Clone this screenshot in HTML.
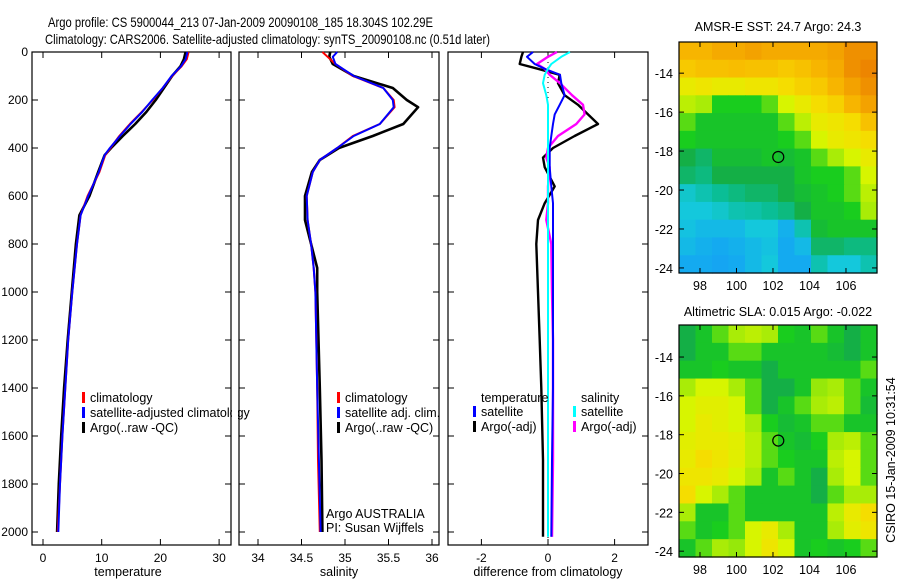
<!DOCTYPE html>
<html><head><meta charset="utf-8"><style>
html,body{margin:0;padding:0;background:#fff;}
svg{display:block;font-family:"Liberation Sans",sans-serif;}
</style></head><body>
<svg id="chart" width="900" height="580" viewBox="0 0 900 580" xmlns="http://www.w3.org/2000/svg">
<text x="48" y="27" font-size="14" textLength="385" lengthAdjust="spacingAndGlyphs">Argo profile: CS 5900044_213 07-Jan-2009 20090108_185 18.304S 102.29E</text>
<text x="45" y="44" font-size="14" textLength="445" lengthAdjust="spacingAndGlyphs">Climatology: CARS2006. Satellite-adjusted climatology: synTS_20090108.nc (0.51d later)</text>
<g id="g"></g>
</svg>
<script>
// ---------- data ----------
var depthT = [0,30,60,100,150,200,250,300,350,400,430,500,600,680,800,1000,1200,1400,1600,1800,2000];
var tempClim = [24.8,24.5,23.6,22.0,20.4,18.7,16.8,14.8,13.0,11.5,10.6,9.6,7.6,6.4,5.8,5.0,4.3,3.8,3.3,2.9,2.5];
var tempSat  = [24.6,24.3,23.5,21.9,20.4,18.6,16.9,14.9,13.1,11.4,10.5,9.5,7.7,6.4,5.8,5.0,4.3,3.8,3.3,2.9,2.6];
var tempArgo = [24.3,24.0,23.4,22.0,20.6,19.2,17.6,15.7,13.6,11.6,10.5,9.4,7.9,6.2,5.6,4.9,4.2,3.6,3.1,2.7,2.4];
var depthS = [0,20,50,100,150,200,230,300,350,400,450,500,600,700,800,900,1000,1400,1700,2000];
var salClim = [34.74,34.80,34.89,35.09,35.44,35.56,35.57,35.40,35.09,34.91,34.71,34.63,34.56,34.57,34.61,34.64,34.66,34.68,34.69,34.71];
var salSat  = [34.91,34.86,34.89,35.10,35.44,35.55,35.56,35.40,35.10,34.91,34.71,34.63,34.56,34.57,34.61,34.64,34.66,34.68,34.70,34.72];
var salArgo = [34.83,34.82,34.86,35.10,35.55,35.71,35.84,35.67,35.32,34.93,34.71,34.62,34.54,34.54,34.61,34.68,34.68,34.71,34.73,34.74];
var depthD = [0,20,50,70,95,130,180,220,260,300,350,400,440,480,560,630,700,800,1000,1200,1400,1700,2020];
var dTempArgo = [-0.75,-0.8,-0.85,-0.3,0.35,0.3,0.5,0.9,1.2,1.5,0.8,0.15,-0.15,-0.1,0.2,-0.1,-0.3,-0.35,-0.3,-0.25,-0.2,-0.15,-0.15];
var dTempSat  = [-0.45,-0.63,-0.4,-0.1,0.36,0.4,0.5,0.35,0.2,0.15,0.1,0.05,0.05,0.05,0.1,0.15,0.15,0.15,0.15,0.15,0.15,0.12,0.1];
var dSalArgo  = [0.27,0.0,-0.33,-0.1,0.05,0.36,0.72,1.05,1.1,0.85,0.3,0.0,-0.05,0.05,0.0,0.0,-0.05,0.1,0.12,0.15,0.15,0.15,0.12];
var dSalSat   = [0.66,0.4,0.1,0.0,-0.1,-0.15,-0.05,0.0,0.0,0.0,0.0,0.0,0.0,0.0,0.0,0.0,0.0,0.0,0.0,0.0,0.0,0.0,0.0];
var depthTicks = [0,200,400,600,800,1000,1200,1400,1600,1800,2000];
var tempTicks = [0,10,20,30];
var salTicks = [34,34.5,35,35.5,36];
var salTickLabels = ["34","34.5","35","35.5","36"];
var diffTicks = [-2,0,2];
var lonTicks = [98,100,102,104,106];
var latTicks = [-14,-16,-18,-20,-22,-24];
var sstGrid = [
[.85,.85,.88,.88,.9,.88,.88,.88,.88,.9,.95,.95],
[.8,.82,.82,.83,.82,.82,.8,.82,.85,.88,.95,.98],
[.7,.72,.7,.7,.72,.72,.75,.78,.8,.85,.9,.95],
[.62,.6,.52,.52,.52,.55,.65,.7,.75,.78,.85,.9],
[.55,.5,.5,.5,.5,.5,.55,.62,.7,.72,.75,.82],
[.52,.5,.5,.5,.5,.5,.52,.55,.65,.7,.72,.75],
[.45,.42,.48,.48,.48,.5,.48,.5,.55,.6,.65,.7],
[.42,.4,.45,.45,.45,.45,.45,.5,.52,.52,.55,.65],
[.32,.35,.38,.4,.42,.42,.45,.48,.5,.52,.55,.62],
[.3,.3,.32,.35,.36,.38,.4,.45,.5,.5,.52,.6],
[.28,.25,.25,.25,.3,.3,.22,.35,.48,.5,.5,.5],
[.25,.22,.2,.22,.25,.28,.2,.25,.42,.42,.4,.4],
[.2,.2,.18,.2,.25,.3,.2,.2,.35,.3,.3,.35]];
var slaGrid = [
[.45,.5,.55,.6,.62,.6,.52,.5,.55,.5,.45,.5],
[.45,.5,.5,.55,.55,.5,.5,.5,.5,.48,.45,.5],
[.5,.5,.52,.5,.5,.45,.5,.5,.5,.5,.5,.55],
[.6,.65,.65,.6,.55,.45,.45,.5,.58,.6,.55,.5],
[.65,.68,.68,.65,.55,.45,.5,.55,.6,.62,.55,.48],
[.65,.7,.68,.65,.6,.52,.48,.5,.55,.55,.5,.5],
[.68,.7,.7,.68,.62,.55,.5,.48,.52,.6,.62,.55],
[.7,.75,.72,.68,.62,.55,.52,.5,.5,.62,.65,.55],
[.72,.72,.7,.65,.6,.5,.55,.5,.45,.6,.65,.55],
[.75,.65,.6,.55,.5,.5,.5,.5,.45,.55,.6,.6],
[.6,.5,.5,.55,.5,.5,.5,.5,.5,.62,.7,.75],
[.55,.5,.52,.55,.65,.7,.6,.5,.5,.6,.68,.72],
[.5,.55,.6,.58,.65,.72,.65,.5,.52,.5,.52,.55]];
var argoLon = 102.29, argoLat = -18.304;

// ---------- helpers ----------
var NS="http://www.w3.org/2000/svg", G=document.getElementById('g');
function el(t,a,p){var e=document.createElementNS(NS,t);for(var k in a)e.setAttribute(k,a[k]);(p||G).appendChild(e);return e;}
function txt(s,a,p){var e=el('text',a,p);e.textContent=s;return e;}
var yTop=52, pxPer=0.24, yBot=545;
function yD(d){return yTop+d*pxPer;}
function xT(v){return 43+5.87*v;}
function xS(v){return 258+87*(v-34);}
function xDf(v){return 548+33.3*v;}
function line(xs,ds,xf,col,w,name){
  var pts=[];for(var i=0;i<ds.length;i++)pts.push(xf(xs[i]).toFixed(1)+','+yD(ds[i]).toFixed(1));
  var e=el('polyline',{points:pts.join(' '),fill:'none',stroke:col,'stroke-width':w,'stroke-linejoin':'round'});
  
  
}
function panel(x0,x1,name){
  var r=el('rect',{x:x0,y:yTop,width:x1-x0,height:yBot-yTop,fill:'none',stroke:'#000','stroke-width':1.2});
  
  
  for(var i=0;i<depthTicks.length;i++){var y=yD(depthTicks[i]);
    el('line',{x1:x0,x2:x0+6,y1:y,y2:y,stroke:'#000'});el('line',{x1:x1-6,x2:x1,y1:y,y2:y,stroke:'#000'});}
}
function xticks(ts,labs,xf){
  for(var i=0;i<ts.length;i++){var x=xf(ts[i]);
    el('line',{x1:x,x2:x,y1:yBot,y2:yBot-6,stroke:'#000'});el('line',{x1:x,x2:x,y1:yTop,y2:yTop+6,stroke:'#000'});
    var t=txt(labs[i],{x:x,y:562,'font-size':12,'text-anchor':'middle'});
    
    }
}
function legend(x,y,col,label){
  el('rect',{x:x,y:y-10,width:3,height:11,fill:col});
  var t=txt(label,{x:x+8,y:y,'font-size':12.5});
  
  
}

for(var i=0;i<depthTicks.length;i++){var t=txt(String(depthTicks[i]),{x:28,y:yD(depthTicks[i])+4,'font-size':12,'text-anchor':'end'});
  
  }

panel(32,231,'temperature-panel');
xticks(tempTicks,tempTicks.map(String),xT);
line(tempArgo,depthT,xT,'#000',2.6,'temp-argo-line');
line(tempClim,depthT,xT,'#f00',2,'temp-climatology-line');
line(tempSat,depthT,xT,'#00f',2,'temp-satellite-line');
legend(82,402,'#f00','climatology');legend(82,417,'#00f','satellite-adjusted climatology');legend(82,432,'#000','Argo(..raw -QC)');
var xl=txt('temperature',{x:128,y:576,'font-size':12.5,'text-anchor':'middle'});


el('rect',{x:232,y:395,width:6,height:40,fill:'#fff'});

panel(239,439,'salinity-panel');
xticks(salTicks,salTickLabels,xS);
line(salArgo,depthS,xS,'#000',2.6,'sal-argo-line');
line(salClim,depthS,xS,'#f00',2,'sal-climatology-line');
line(salSat,depthS,xS,'#00f',2,'sal-satellite-line');
legend(337,402,'#f00','climatology');legend(337,417,'#00f','satellite adj. clim.');legend(337,432,'#000','Argo(..raw -QC)');
txt('Argo AUSTRALIA',{x:326,y:518,'font-size':12.5});
txt('PI: Susan Wijffels',{x:326,y:532,'font-size':12.5});
var sl=txt('salinity',{x:339,y:576,'font-size':12.5,'text-anchor':'middle'});



panel(448,648,'difference-panel');
xticks(diffTicks,diffTicks.map(String),xDf);
el('line',{x1:xDf(0),x2:xDf(0),y1:yTop,y2:yBot,stroke:'#000','stroke-dasharray':'1,4'});
line(dTempArgo,depthD,xDf,'#000',2.4,'diff-temp-argo-line');
line(dSalArgo,depthD,xDf,'#f0f',2.4,'diff-sal-argo-line');
line(dTempSat,depthD,xDf,'#00f',2,'diff-temp-satellite-line');
line(dSalSat,depthD,xDf,'#0ff',2,'diff-sal-satellite-line');
txt('temperature',{x:481,y:402,'font-size':12.5});
legend(473,416,'#00f','satellite');legend(473,431,'#000','Argo(-adj)');
txt('salinity',{x:581,y:402,'font-size':12.5});
legend(573,416,'#0ff','satellite');legend(573,431,'#f0f','Argo(-adj)');
var dl=txt('difference from climatology',{x:548,y:576,'font-size':12.5,'text-anchor':'middle'});



// ---------- maps ----------
var stops=[[0,[26,120,255]],[0.2,[20,170,240]],[0.3,[20,200,220]],[0.38,[10,190,150]],[0.45,[20,175,70]],[0.52,[25,205,30]],[0.58,[150,232,10]],[0.65,[215,245,0]],[0.74,[245,225,0]],[0.84,[248,185,0]],[1,[235,125,0]]];
function cmap(v){for(var i=1;i<stops.length;i++){if(v<=stops[i][0]){var a=stops[i-1],b=stops[i],f=(v-a[0])/(b[0]-a[0]);
  var c=a[1].map(function(q,j){return Math.round(q+(b[1][j]-q)*f);});return 'rgb('+c.join(',')+')';}}return 'rgb(235,125,0)';}
var lonMin=96.85, lonMax=107.7;
function mapPanel(grid,mx0,mx1,my0,my1,latTop,latBot,title,ty,name){
  var xf=function(l){return mx0+(l-lonMin)/(lonMax-lonMin)*(mx1-mx0);};
  var yf=function(l){return my0+(latTop-l)/(latTop-latBot)*(my1-my0);};
  var rows=grid.length, cols=grid[0].length, cw=(mx1-mx0)/cols, rh=(my1-my0)/rows;
  for(var r=0;r<rows;r++)for(var c=0;c<cols;c++){
    var e=el('rect',{x:(mx0+c*cw).toFixed(2),y:(my0+r*rh).toFixed(2),width:(cw+0.6).toFixed(2),height:(rh+0.6).toFixed(2),fill:cmap(grid[r][c])});
    
    
  }
  var b=el('rect',{x:mx0,y:my0,width:mx1-mx0,height:my1-my0,fill:'none',stroke:'#000','stroke-width':1.2});
  
  
  for(var i=0;i<lonTicks.length;i++){var x=xf(lonTicks[i]);
    el('line',{x1:x,x2:x,y1:my1,y2:my1-5,stroke:'#000'});el('line',{x1:x,x2:x,y1:my0,y2:my0+5,stroke:'#000'});
    txt(String(lonTicks[i]),{x:x,y:my1+17,'font-size':12.5,'text-anchor':'middle'});}
  for(var i=0;i<latTicks.length;i++){var y=yf(latTicks[i]);
    el('line',{x1:mx0,x2:mx0+5,y1:y,y2:y,stroke:'#000'});el('line',{x1:mx1-5,x2:mx1,y1:y,y2:y,stroke:'#000'});
    txt(String(latTicks[i]),{x:mx0-6,y:y+5,'font-size':12.5,'text-anchor':'end'});}
  var ci=el('circle',{cx:xf(argoLon),cy:yf(argoLat),r:5.5,fill:'none',stroke:'#000','stroke-width':1.2});
  
  
  var t=txt(title,{x:(mx0+mx1)/2,y:ty,'font-size':12.5,'text-anchor':'middle'});
  
  
}
mapPanel(sstGrid,679,877,42,273,-12.4,-24.26,'AMSR-E SST: 24.7 Argo: 24.3',31,'sst-map');
mapPanel(slaGrid,679,877,325,557,-12.35,-24.3,'Altimetric SLA: 0.015 Argo: -0.022',316,'sla-map');
var ts=txt('CSIRO 15-Jan-2009 10:31:54',{x:0,y:0,'font-size':12.5,'text-anchor':'middle',transform:'translate(895,460) rotate(-90)'});


</script>
</body></html>
